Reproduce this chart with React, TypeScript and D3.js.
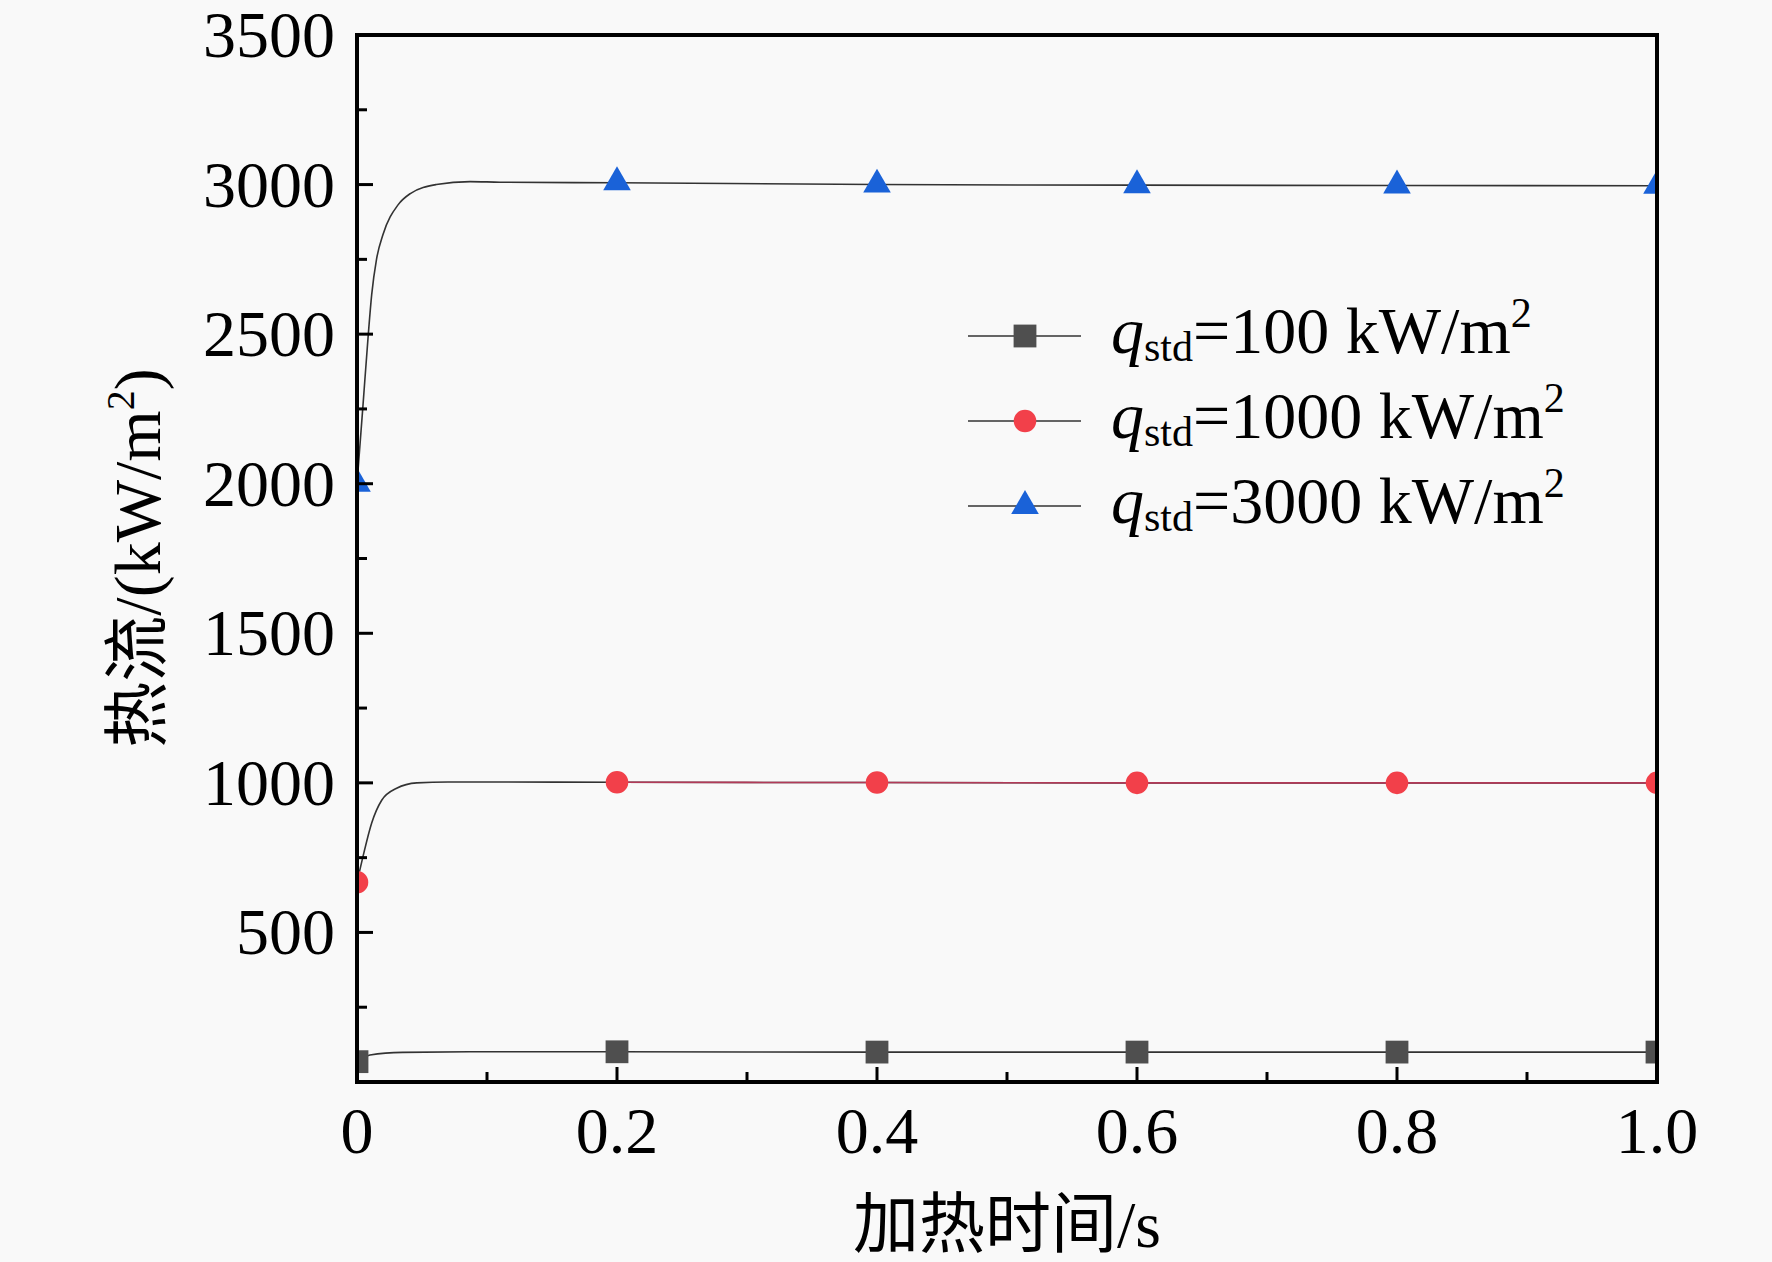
import * as d3 from "d3";

// axis ticks
const xMajor = [0, 0.2, 0.4, 0.6, 0.8, 1.0];
const xLabels = ["0", "0.2", "0.4", "0.6", "0.8", "1.0"];
const xMinor = [0.1, 0.3, 0.5, 0.7, 0.9];
const yMajor = [500, 1000, 1500, 2000, 2500, 3000, 3500];
const yMinor = [250, 750, 1250, 1750, 2250, 2750, 3250];

// marker series
const markerTimes = [0, 0.2, 0.4, 0.6, 0.8, 1.0];
const q100Markers = [68, 101, 100, 100, 100, 100];
const q1000Markers = [668, 1002, 1001, 1000, 1000, 1000];
const q3000Markers = [2000, 3008, 3000, 2998, 2997, 2996];

// simulated curves
const q100CurveT = [0, 0.01, 0.035, 0.1, 0.2, 0.4, 0.6, 0.8, 1.0];
const q100CurveV = [68, 90, 99, 101, 101, 100, 100, 100, 100];
const q1000CurveT = [0, 0.0044, 0.0113, 0.019, 0.0305, 0.046, 0.07, 0.1, 0.2, 0.4, 0.6, 0.8, 1.0];
const q1000CurveV = [668, 750, 866, 942, 982, 1000, 1003, 1003, 1002, 1001, 1000, 1000, 1000];
const q3000CurveT = [0, 0.0044, 0.0087, 0.0113, 0.015, 0.02, 0.0317, 0.041, 0.061, 0.087, 0.11, 0.2, 0.4, 0.6, 0.8, 1.0];
const q3000CurveV = [2000, 2250, 2500, 2632, 2750, 2833, 2933, 2970, 3000, 3010, 3008, 3006, 3000, 2998, 2997, 2996];

const legendLabels = ["100", "1000", "3000"];

const W = 1772;
const H = 1262;
const left = 357;
const top = 35;
const pw = 1300;
const ph = 1047;

const serif = "'Liberation Serif', 'Times New Roman', 'Noto Sans CJK SC', serif";

export default function App() {
  const x = d3.scaleLinear().domain([0, 1]).range([0, pw]);
  const y = d3.scaleLinear().domain([0, 3500]).range([ph, 0]);

  const line = d3
    .line<[number, number]>()
    .x((d) => x(d[0]))
    .y((d) => y(d[1]))
    .curve(d3.curveMonotoneX);

  const zip = (t: number[], v: number[]) => t.map((d, i) => [d, v[i]] as [number, number]);

  const square = d3.symbol(d3.symbolSquare, 520)()!;
  const circle = d3.symbol(d3.symbolCircle, 400)()!;
  const triangle = d3.symbol(d3.symbolTriangle, 330)()!;

  const series = [
    { curve: zip(q100CurveT, q100CurveV), markers: q100Markers, path: square, fill: "#4f4f4f" },
    { curve: zip(q1000CurveT, q1000CurveV), markers: q1000Markers, path: circle, fill: "#f2404a" },
    { curve: zip(q3000CurveT, q3000CurveV), markers: q3000Markers, path: triangle, fill: "#1a62d8" },
  ];

  const redTail = zip(q1000CurveT, q1000CurveV).filter((d) => d[0] >= 0.2);

  const legendY = [336, 421, 506];

  return (
    <svg
      width={W}
      height={H}
      style={{ position: "absolute", left: 0, top: 0, background: "#f9f9f9" }}
      fontFamily={serif}
    >
      <rect width={W} height={H} fill="#f9f9f9" />
      <defs>
        <clipPath id="plot">
          <rect x={0} y={0} width={pw} height={ph} />
        </clipPath>
      </defs>
      <g transform={`translate(${left},${top})`}>
        <g clipPath="url(#plot)">
          {series.map((s, i) => (
            <path key={`c${i}`} d={line(s.curve)!} fill="none" stroke="#333" strokeWidth={1.6} />
          ))}
          <path d={line(redTail)!} fill="none" stroke="#b23a58" strokeWidth={1.6} />
          {series.map((s, i) =>
            s.markers.map((v, j) => (
              <path
                key={`m${i}-${j}`}
                d={s.path}
                transform={`translate(${x(markerTimes[j])},${y(v)})`}
                fill={s.fill}
              />
            ))
          )}
        </g>

        {/* ticks */}
        {yMajor.map((v) => (
          <line key={`ym${v}`} x1={0} x2={16} y1={y(v)} y2={y(v)} stroke="#000" strokeWidth={3} />
        ))}
        {yMinor.map((v) => (
          <line key={`yn${v}`} x1={0} x2={10} y1={y(v)} y2={y(v)} stroke="#000" strokeWidth={3} />
        ))}
        {xMajor.map((v) => (
          <line key={`xm${v}`} x1={x(v)} x2={x(v)} y1={ph} y2={ph - 15} stroke="#000" strokeWidth={3} />
        ))}
        {xMinor.map((v) => (
          <line key={`xn${v}`} x1={x(v)} x2={x(v)} y1={ph} y2={ph - 10} stroke="#000" strokeWidth={3} />
        ))}

        <rect x={0} y={0} width={pw} height={ph} fill="none" stroke="#000" strokeWidth={4} />

        {/* tick labels */}
        {yMajor.map((v) => (
          <text key={`yl${v}`} x={-22} y={y(v) + 22} textAnchor="end" fontSize={66}>
            {v}
          </text>
        ))}
        {xMajor.map((v, i) => (
          <text key={`xl${v}`} x={x(v)} y={ph + 71} textAnchor="middle" fontSize={66}>
            {xLabels[i]}
          </text>
        ))}

        {/* axis titles */}
        <text x={pw / 2} y={1247 - top} textAnchor="middle" fontSize={66}>
          加热时间/s
        </text>
        <text transform={`translate(${160 - left},${558 - top}) rotate(-90)`} textAnchor="middle" fontSize={66}>
          热流/(kW/m<tspan fontSize={40} dy={-26}>2</tspan>
          <tspan dy={26}>)</tspan>
        </text>
      </g>

      {/* legend */}
      {series.map((s, i) => (
        <g key={`lg${i}`}>
          <line x1={968} x2={1081} y1={legendY[i]} y2={legendY[i]} stroke="#333" strokeWidth={1.6} />
          <path d={s.path} transform={`translate(1025,${legendY[i]})`} fill={s.fill} />
          <text x={1111} y={legendY[i] + 17} fontSize={66}>
            <tspan fontStyle="italic">q</tspan>
            <tspan fontSize={42} dy={8}>std</tspan>
            <tspan dy={-8}>={legendLabels[i]} kW/m</tspan>
            <tspan fontSize={42} dy={-26}>2</tspan>
          </text>
        </g>
      ))}
    </svg>
  );
}
